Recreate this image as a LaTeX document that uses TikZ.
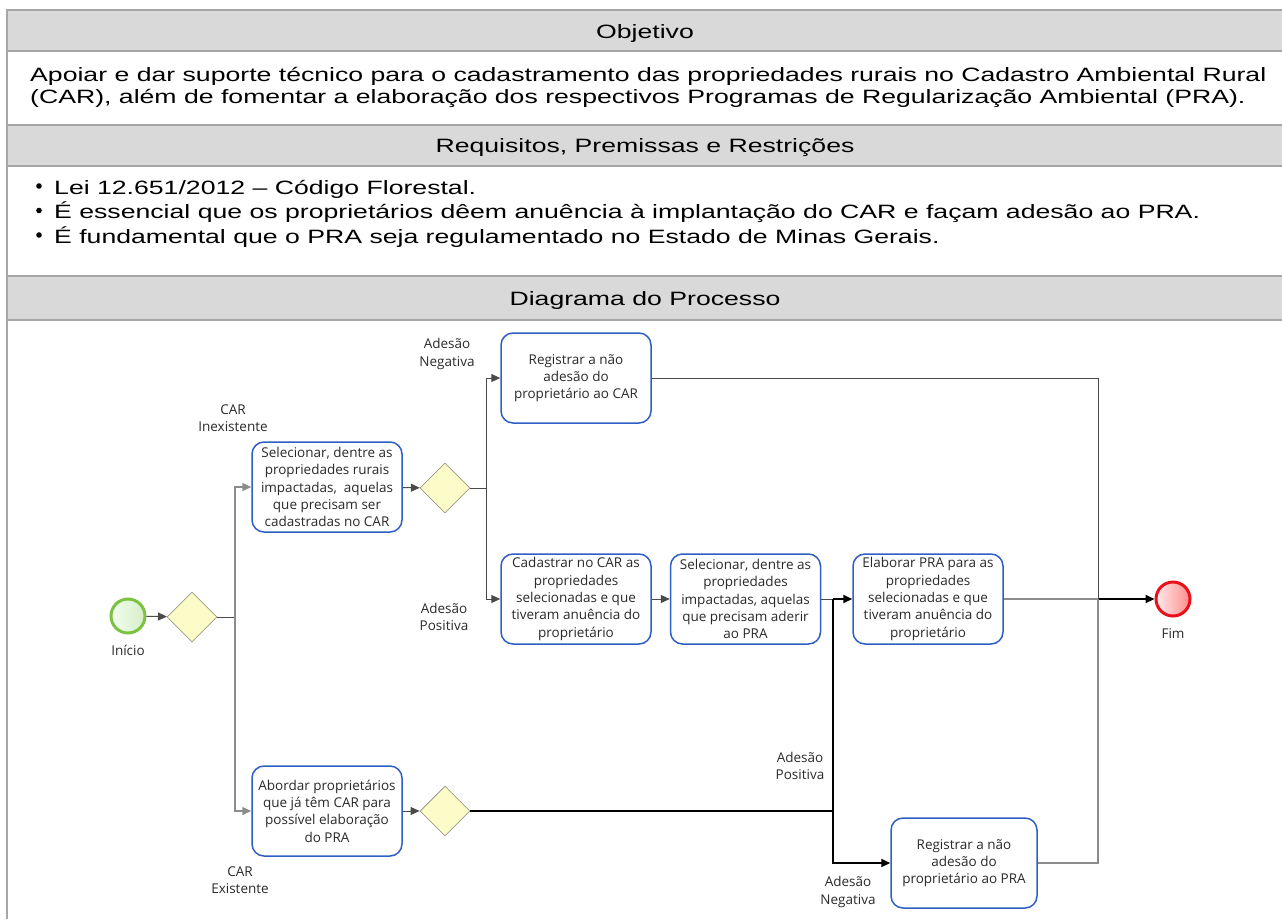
\documentclass[tikz,border=0pt]{standalone}
\usepackage{fontspec}
\usetikzlibrary{shapes.geometric,arrows.meta,shadings}
\newfontfamily\hdrfont[FakeStretch=1.38]{Liberation Sans}
\newfontfamily\dgmfont{Open Sans}
\definecolor{bandgray}{HTML}{D9D9D9}
\definecolor{bordergray}{HTML}{A6A6A6}
\definecolor{taskblue}{HTML}{2F5FC4}
\definecolor{gwfill}{HTML}{FCFCC8}
\definecolor{gwline}{HTML}{9A9A86}
\definecolor{startgreen}{HTML}{7CC242}
\definecolor{endred}{HTML}{E8101A}
\definecolor{connc}{HTML}{4A4A4A}
\definecolor{conngray}{HTML}{8C8C8C}
\definecolor{txt}{HTML}{2A2A2A}
\tikzset{
  hdr/.style={font=\hdrfont\fontsize{19.3}{22.5}\selectfont, inner sep=0pt, text=black},
  band/.style={fill=bandgray, draw=none},
  rule/.style={draw=bordergray, line width=2pt},
  dgm/.style={font=\dgmfont\fontsize{13.5}{17.3}\selectfont, text=txt},
  task/.style={dgm, draw=taskblue, line width=1.5pt, rounded corners=12pt, fill=white,
    minimum width=150pt, minimum height=90pt, align=center, inner sep=0pt},
  gw/.style={diamond, draw=gwline, fill=gwfill, line width=0.8pt, minimum width=50pt,
    minimum height=50pt, inner sep=0pt, aspect=1},
  lbl/.style={dgm, align=center, inner sep=0pt},
  conn/.style={draw=connc, line width=1pt},
  conng/.style={draw=conngray, line width=1.5pt},
  connb/.style={draw=black, line width=2pt},
  arr/.style={-{Triangle[length=9pt,width=8pt]}},
}
\begin{document}
\begin{tikzpicture}[x=1pt,y=-1pt]
\useasboundingbox (0,0) rectangle (1282,919);
% ---- table ----
\fill[band] (7,10) rectangle (1282,51);
\fill[band] (7,125) rectangle (1282,166);
\fill[band] (7,276) rectangle (1282,320);
\draw[rule] (7,10) -- (1282,10);
\draw[rule] (7,51) -- (1282,51);
\draw[rule] (7,125) -- (1282,125);
\draw[rule] (7,166) -- (1282,166);
\draw[rule] (7,276) -- (1282,276);
\draw[rule] (7,320) -- (1282,320);
\draw[rule] (7,9) -- (7,919);
\node[hdr, anchor=base] (hobj) at (645,38) {Objetivo};
\node[hdr, anchor=base west] (obj1) at (30,81) {Apoiar e dar suporte técnico para o cadastramento das propriedades rurais no Cadastro Ambiental Rural};
\node[hdr, anchor=base west] (obj2) at (30,103.5) {(CAR), além de fomentar a elaboração dos respectivos Programas de Regularização Ambiental (PRA).};
\node[hdr, anchor=base] (hreq) at (645,152.5) {Requisitos, Premissas e Restrições};
\fill (39,186) circle (2.8);
\fill (39,210.5) circle (2.8);
\fill (39,235) circle (2.8);
\node[hdr, anchor=base west] (req1) at (54,194) {Lei 12.651/2012 – Código Florestal.};
\node[hdr, anchor=base west] (req2) at (54,218.5) {É essencial que os proprietários dêem anuência à implantação do CAR e façam adesão ao PRA.};
\node[hdr, anchor=base west] (req3) at (54,243) {É fundamental que o PRA seja regulamentado no Estado de Minas Gerais.};
\node[hdr, anchor=base] (hdia) at (645,305) {Diagrama do Processo};
% ---- diagram ----
\node[circle, draw=startgreen, line width=3pt, minimum size=34pt, inner sep=0pt,
  left color=green!6!white, right color=startgreen!30!white] (S) at (128,616) {};
\node[lbl] (lini) at (128,650) {Início};
\node[gw] (D1) at (192,617) {};
\node[task] (A) at (327,487) {Selecionar, dentre as\\propriedades rurais\\impactadas,\ \ aquelas\\que precisam ser\\cadastradas no CAR};
\node[gw] (D2) at (445,488) {};
\node[task] (B) at (576,378) {Registrar a não\\adesão do\\proprietário ao CAR};
\node[task] (C) at (576,599) {Cadastrar no CAR as\\propriedades\\selecionadas e que\\tiveram anuência do\\proprietário};
\node[task] (D) at (745.5,599) {Selecionar, dentre as\\propriedades\\impactadas, aquelas\\que precisam aderir\\ao PRA};
\node[task] (E) at (928,599) {Elaborar PRA para as\\propriedades\\selecionadas e que\\tiveram anuência do\\proprietário};
\node[circle, draw=endred, line width=3pt, minimum size=34pt, inner sep=0pt,
  left color=red!8!white, right color=red!45!white] (Fim) at (1173,599) {};
\node[lbl] (lfim) at (1173,634) {Fim};
\node[task] (F) at (327,811) {Abordar proprietários\\que já têm CAR para\\possível elaboração\\do PRA};
\node[gw] (D3) at (445,811) {};
\node[task, minimum width=146pt] (G) at (964,863) {Registrar a não\\adesão do\\proprietário ao PRA};
% labels
\node[lbl] (lci) at (233,418) {CAR\\Inexistente};
\node[lbl] (lneg1) at (447,354) {Adesão\\Negativa};
\node[lbl] (lpos1) at (444,617) {Adesão\\Positiva};
\node[lbl] (lce) at (240,880) {CAR\\Existente};
\node[lbl] (lpos2) at (800,766) {Adesão\\Positiva};
\node[lbl] (lneg2) at (848,892) {Adesão\\Negativa};
% junctions
\coordinate (j1) at (235,617);
\coordinate (j2) at (486,488);
\coordinate (j3) at (833,599);
\coordinate (j4) at (833,811);
\coordinate (j5) at (1098,599);
% connectors
\draw[conn, arr] (S) -- (D1);
\draw[conn] (D1.east) -- (j1);
\draw[conng, arr] (j1) |- (A.west);
\draw[conng, arr] (j1) |- (F.west);
\draw[conn, arr] (A) -- (D2);
\draw[conn, arr] (F) -- (D3);
\draw[conn] (D2.east) -- (j2);
\draw[conn, arr] (j2) |- (B.west);
\draw[conn, arr] (j2) |- (C.west);
\draw[conn, arr] (C) -- (D);
\draw[conn] (D.east) -- (j3);
\draw[connb] (D3.east) -- (j4) -- (j3);
\draw[connb, arr] (j3) -- (E.west);
\draw[connb, arr] (j4) |- (G.west);
\draw[conng] (E.east) -- (j5);
\draw[connb, arr] (j5) -- (Fim.west);
\draw[conn] (B.east) -| (j5);
\draw[conng] (G.east) -| (j5);
\end{tikzpicture}
\end{document}
